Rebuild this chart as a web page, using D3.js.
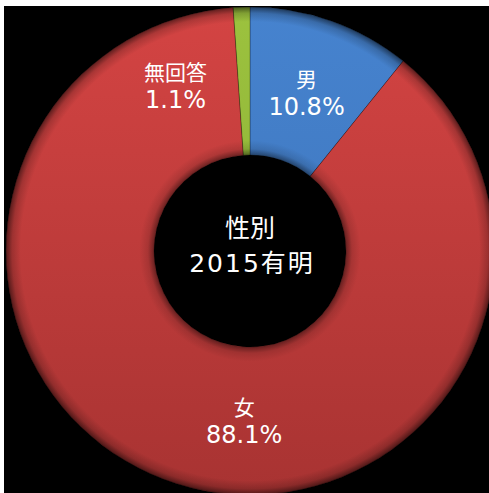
<!DOCTYPE html>
<html>
<head>
<meta charset="utf-8">
<script src="https://cdn.jsdelivr.net/npm/d3@7"></script>
<style>
  html, body { margin: 0; padding: 0; background: #fff; }
  svg { display: block; }
</style>
</head>
<body>
<div id="chart"></div>
<script>
// data
var categories = ["男", "女", "無回答"];
var percents = [10.8, 88.1, 1.1];
var colors = ["#4683cf", "#d44443", "#9cc23e"];
var darkColors = ["#3b70b4", "#a83332", "#85a834"];
var titleTop = "性別";
var titleYear = "2015";
var titlePlace = "有明";
// label placement override: [angle in degrees from top, radius] (null = centroid)
var labelPlaces = [null, [182, 168], [-24, 183]];

var W = 489, H = 493;
var cx = 250, cy = 251, outerR = 244, innerR = 96;

var svg = d3.select("#chart")
  .append("svg")
  .attr("width", W)
  .attr("height", H);

var defs = svg.append("defs");

// top-to-bottom shade per slice colour
colors.forEach(function(c, i) {
  var lg = defs.append("linearGradient")
    .attr("id", "lg" + i)
    .attr("gradientUnits", "userSpaceOnUse")
    .attr("x1", 0).attr("y1", -outerR)
    .attr("x2", 0).attr("y2", outerR);
  lg.append("stop").attr("offset", "0%").attr("stop-color", c);
  lg.append("stop").attr("offset", "100%").attr("stop-color", darkColors[i]);
});

// bevel overlay: dark at inner and outer edges
var rg = defs.append("radialGradient")
  .attr("id", "bevel")
  .attr("gradientUnits", "userSpaceOnUse")
  .attr("cx", 0).attr("cy", 0).attr("r", outerR);
var k = innerR / outerR;
[[k, 0.45], [k + 0.025, 0.12], [k + 0.06, 0], [0.94, 0], [0.975, 0.18], [1, 0.55]]
  .forEach(function(s) {
    rg.append("stop").attr("offset", s[0]).attr("stop-color", "#000").attr("stop-opacity", s[1]);
  });

svg.append("rect")
  .attr("x", 4).attr("y", 6)
  .attr("width", W - 4).attr("height", H - 6)
  .attr("fill", "#000");

var g = svg.append("g")
  .attr("transform", "translate(" + cx + "," + cy + ")");

var pie = d3.pie().sort(null).value(function(d) { return d; });
var arcs = pie(percents);

var arc = d3.arc().innerRadius(innerR).outerRadius(outerR);

g.selectAll("path.slice")
  .data(arcs).enter()
  .append("path")
  .attr("class", "slice")
  .attr("d", arc)
  .attr("fill", function(d, i) { return "url(#lg" + i + ")"; })
  .attr("stroke", "rgba(0,0,0,0.25)")
  .attr("stroke-width", 1);

g.append("path")
  .attr("d", d3.arc().innerRadius(innerR).outerRadius(outerR).startAngle(0).endAngle(2 * Math.PI)())
  .attr("fill", "url(#bevel)")
  .style("pointer-events", "none");

var labels = g.selectAll("g.label")
  .data(arcs).enter()
  .append("g")
  .attr("class", "label")
  .attr("transform", function(d, i) {
    var p;
    if (labelPlaces[i]) {
      var a = labelPlaces[i][0] * Math.PI / 180, r = labelPlaces[i][1];
      p = [r * Math.sin(a), -r * Math.cos(a)];
    } else {
      p = arc.centroid(d);
    }
    return "translate(" + p[0] + "," + p[1] + ")";
  });

labels.append("text")
  .attr("y", -4)
  .attr("text-anchor", "middle")
  .attr("fill", "#fff")
  .style("font-family", "'Noto Sans CJK JP', sans-serif")
  .style("font-size", "21px")
  .text(function(d, i) { return categories[i]; });

labels.append("text")
  .attr("y", 24)
  .attr("text-anchor", "middle")
  .attr("fill", "#fff")
  .style("font-family", "'DejaVu Sans', sans-serif")
  .style("font-size", "24px")
  .text(function(d, i) { return d3.format(".1f")(percents[i]) + "%"; });

g.append("text")
  .attr("x", 0).attr("y", -14)
  .attr("text-anchor", "middle")
  .attr("fill", "#fff")
  .style("font-family", "'Noto Sans CJK JP', sans-serif")
  .style("font-size", "25px")
  .text(titleTop);

var t2 = g.append("text")
  .attr("x", 2).attr("y", 21)
  .attr("text-anchor", "middle")
  .attr("fill", "#fff")
  .style("font-size", "25px")
  .style("letter-spacing", "2px");
t2.append("tspan")
  .style("font-family", "'DejaVu Sans', sans-serif")
  .text(titleYear);
t2.append("tspan")
  .style("font-family", "'Noto Sans CJK JP', sans-serif")
  .text(titlePlace);
</script>
</body>
</html>
